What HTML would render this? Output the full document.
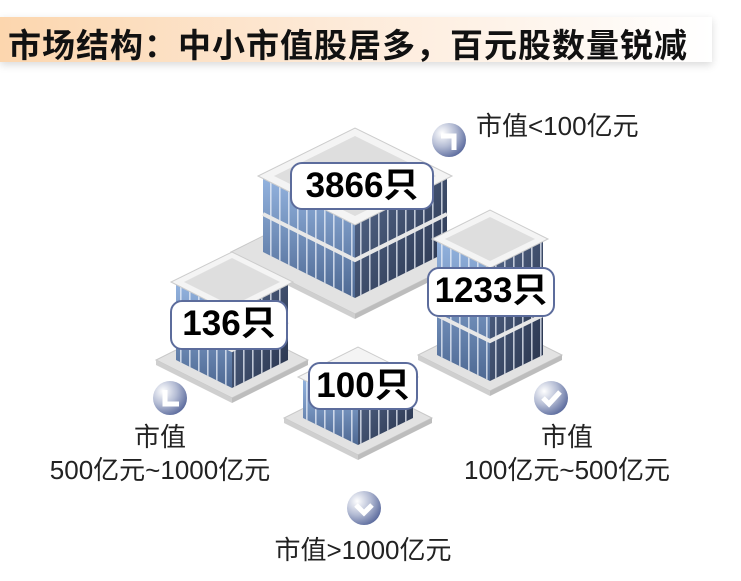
<!DOCTYPE html>
<html><head><meta charset="utf-8"><style>
html,body{margin:0;padding:0;background:#fff;}
body{width:741px;height:581px;position:relative;overflow:hidden;font-family:"Liberation Sans","Noto Sans CJK SC",sans-serif;}
.hdr{position:absolute;left:0;top:17px;width:712px;height:45px;background:linear-gradient(90deg,#fcd6ae 0%,#fde9d6 45%,#fff 100%);box-shadow:0 3px 8px rgba(0,0,0,0.15);}
.hdr span{position:absolute;left:8px;top:2px;font-size:33px;font-weight:bold;color:#111;letter-spacing:1px;white-space:nowrap;}
.lbl{position:absolute;background:#fff;border:2px solid #5c6c9c;border-radius:12px;font-weight:bold;font-size:35px;color:#000;text-align:center;box-sizing:border-box;line-height:44px;}
.t{position:absolute;font-size:26px;line-height:30px;color:#222;white-space:nowrap;text-align:center;}
</style></head><body>
<div class="hdr"><span>市场结构：中小市值股居多，百元股数量锐减</span></div>
<svg width="741" height="581" style="position:absolute;left:0;top:0">
<defs>
<linearGradient id="lf" x1="0" y1="0" x2="0" y2="1"><stop offset="0" stop-color="#93b3df"/><stop offset="1" stop-color="#4e6993"/></linearGradient>
<linearGradient id="rf" x1="0" y1="0" x2="1" y2="1"><stop offset="0" stop-color="#56698c"/><stop offset="1" stop-color="#27324a"/></linearGradient>
<pattern id="win" width="9" height="10" patternUnits="userSpaceOnUse"><rect x="0" y="0" width="1.6" height="10" fill="rgba(235,240,250,0.75)"/></pattern>
<radialGradient id="ic" cx="0.3" cy="0.3" r="0.8"><stop offset="0" stop-color="#ffffff"/><stop offset="0.5" stop-color="#b4bcd4"/><stop offset="1" stop-color="#56669a"/></radialGradient>
</defs>
<g stroke="none">
<polygon points="231,252 355,314 479,252 355,190" fill="#e2e2e2" stroke="#c8c8c8"/>
<polygon points="231,252 355,314 355,319 231,257" fill="#cfcfcf"/><polygon points="355,314 479,252 479,257 355,319" fill="#bdbdbd"/>
<polygon points="263,252 355,298 355,223 263,177" fill="url(#lf)"/><polygon points="263,252 355,298 355,223 263,177" fill="url(#win)"/>
<polygon points="355,298 447,252 447,177 355,223" fill="url(#rf)"/><polygon points="355,298 447,252 447,177 355,223" fill="url(#win)"/>
<polyline points="263,214 355,260 447,214" fill="none" stroke="#e8e8e8" stroke-width="4"/>
<polygon points="258,176 355,225 452,176 355,128" fill="#f4f4f4" stroke="#ccc"/>
<polygon points="274,176 355,216 436,176 355,136" fill="#dedede"/>
<polygon points="156,360 232,398 308,360 232,322" fill="#e2e2e2" stroke="#c8c8c8"/>
<polygon points="156,360 232,398 232,403 156,365" fill="#cfcfcf"/><polygon points="232,398 308,360 308,365 232,403" fill="#bdbdbd"/>
<polygon points="176,360 232,388 232,311 176,283" fill="url(#lf)"/><polygon points="176,360 232,388 232,311 176,283" fill="url(#win)"/>
<polygon points="232,388 288,360 288,283 232,311" fill="url(#rf)"/><polygon points="232,388 288,360 288,283 232,311" fill="url(#win)"/>
<polyline points="176,322 232,350 288,322" fill="none" stroke="#e8e8e8" stroke-width="4"/>
<polygon points="171,282 232,313 293,282 232,252" fill="#f4f4f4" stroke="#ccc"/>
<polygon points="184,282 232,306 280,282 232,258" fill="#dedede"/>
<polygon points="418,355 490,391 562,355 490,319" fill="#e2e2e2" stroke="#c8c8c8"/>
<polygon points="418,355 490,391 490,396 418,360" fill="#cfcfcf"/><polygon points="490,391 562,355 562,360 490,396" fill="#bdbdbd"/>
<polygon points="437,355 490,381 490,266 437,240" fill="url(#lf)"/><polygon points="437,355 490,381 490,266 437,240" fill="url(#win)"/>
<polygon points="490,381 543,355 543,240 490,266" fill="url(#rf)"/><polygon points="490,381 543,355 543,240 490,266" fill="url(#win)"/>
<polyline points="437,315 490,341 543,315" fill="none" stroke="#e8e8e8" stroke-width="4"/>
<polyline points="437,275 490,301 543,275" fill="none" stroke="#e8e8e8" stroke-width="3"/>
<polygon points="432,239 490,268 548,239 490,210" fill="#f4f4f4" stroke="#ccc"/>
<polygon points="445,239 490,261 535,239 490,217" fill="#dedede"/>
<polygon points="284,418 358,455 432,418 358,381" fill="#e2e2e2" stroke="#c8c8c8"/>
<polygon points="284,418 358,455 358,460 284,423" fill="#cfcfcf"/><polygon points="358,455 432,418 432,423 358,460" fill="#bdbdbd"/>
<polygon points="303,418 358,445 358,405 303,378" fill="url(#lf)"/><polygon points="303,418 358,445 358,405 303,378" fill="url(#win)"/>
<polygon points="358,445 413,418 413,378 358,405" fill="url(#rf)"/><polygon points="358,445 413,418 413,378 358,405" fill="url(#win)"/>
<polygon points="298,377 358,407 418,377 358,347" fill="#f4f4f4" stroke="#ccc"/>
<circle cx="449" cy="140" r="17" fill="url(#ic)"/>
<polyline points="441,136 454,136 454,150" fill="none" stroke="#fff" stroke-width="5"/>
<circle cx="170" cy="398" r="17" fill="url(#ic)"/>
<polyline points="165,390 165,404 179,404" fill="none" stroke="#fff" stroke-width="5"/>
<circle cx="551" cy="398" r="17" fill="url(#ic)"/>
<polyline points="543,398 549,404 560,392" fill="none" stroke="#fff" stroke-width="5"/>
<circle cx="364" cy="508" r="17" fill="url(#ic)"/>
<polyline points="356,505 364,513 372,505" fill="none" stroke="#fff" stroke-width="5"/>
</g>
</svg>
<div class="lbl" style="left:290px;top:162px;width:144px;height:48px;">3866只</div>
<div class="lbl" style="left:427px;top:267px;width:128px;height:50px;">1233只</div>
<div class="lbl" style="left:170px;top:300px;width:118px;height:50px;">136只</div>
<div class="lbl" style="left:308px;top:362px;width:110px;height:48px;">100只</div>
<div class="t" style="left:476px;top:111px;">市值&lt;100亿元</div>
<div class="t" style="left:60px;top:422px;width:200px;">市值</div>
<div class="t" style="left:20px;top:455px;width:280px;">500亿元~1000亿元</div>
<div class="t" style="left:467px;top:422px;width:200px;">市值</div>
<div class="t" style="left:427px;top:455px;width:280px;">100亿元~500亿元</div>
<div class="t" style="left:223px;top:535px;width:280px;">市值&gt;1000亿元</div>
</body></html>
